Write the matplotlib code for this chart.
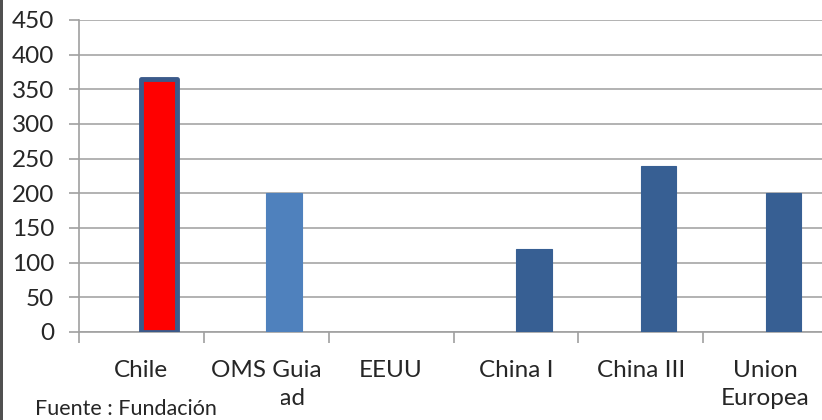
import matplotlib
matplotlib.use("Agg")
import matplotlib.pyplot as plt
from matplotlib.patches import Rectangle
import numpy as np

categories = ["Chile", "OMS Guia\nCalidad", "EEUU", "China I", "China III", "Union\nEuropea"]
values = [365, 200, 0, 120, 240, 200]
colors = ["#FF0000", "#4F81BD", "#375F93", "#375F93", "#375F93", "#375F93"]
edgecolors = ["#3B5A8A", "#4F81BD", "#375F93", "#375F93", "#375F93", "#375F93"]
yticks = [0, 50, 100, 150, 200, 250, 300, 350, 400, 450]
source = "Fuente : Fundación"

plt.rcParams['font.family'] = ['Lato', 'DejaVu Sans']

fig = plt.figure(figsize=(8.22, 4.20), dpi=100)
ax = fig.add_axes([79/822, 1-332/420, 749/822, 312/420])

x = np.arange(len(categories))
bw = 0.286
off = 0.143
for i, (v, c, ec) in enumerate(zip(values, colors, edgecolors)):
    if v <= 0:
        continue
    lw = 3.5 if i == 0 else 0.8
    ax.bar(x[i] + off, v, width=bw, color=c, edgecolor=ec, linewidth=lw, zorder=3,
           joinstyle='round' if i == 0 else 'miter')

ax.set_xlim(-0.5, len(categories) - 0.5)
ax.set_ylim(0, 450)
ax.set_yticks(yticks)
ax.set_yticklabels([str(t) for t in yticks], fontsize=17.5, color="#262626")
ax.yaxis.grid(True, color="#A6A6A6", linewidth=1.2, zorder=0)
ax.set_axisbelow(True)

ax.set_xticks(x)
ax.set_xticklabels(categories, fontsize=17.5, color="#262626", linespacing=1.4)
ax.set_xticks(np.arange(-0.5, len(categories)), minor=True)
ax.tick_params(axis='x', which='major', length=0, pad=20)
ax.tick_params(axis='x', which='minor', length=8, color="#A0A0A0", width=1.2)
ax.tick_params(axis='y', length=7, color="#A0A0A0", width=1.2, pad=11)

for s in ['top', 'right']:
    ax.spines[s].set_visible(False)
for s in ['left', 'bottom']:
    ax.spines[s].set_color("#A0A0A0")
    ax.spines[s].set_linewidth(1.2)

# source box covering part of the category label
fig.patches.append(Rectangle((0, 0), 281/822, 38/420, transform=fig.transFigure,
                             facecolor="white", edgecolor="none", zorder=10))
fig.text(35/822, 1-409/420, source, fontsize=15.5, color="#262626", va='center', ha='left', zorder=11)

# slide left border
fig.patches.append(Rectangle((0, 0), 3/822, 1, transform=fig.transFigure,
                             facecolor="#505050", edgecolor="none", zorder=12))

fig.savefig("out.png", dpi=100)
